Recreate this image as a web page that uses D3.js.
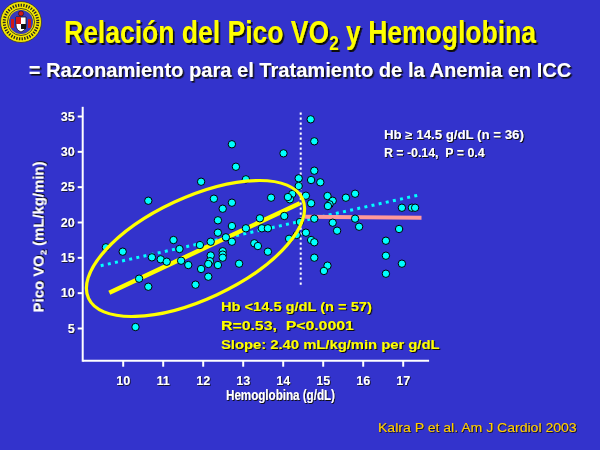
<!DOCTYPE html>
<html><head><meta charset="utf-8">
<script src="https://cdn.jsdelivr.net/npm/d3@7"></script>
<style>html,body{margin:0;padding:0;background:#3333cc;}svg{display:block;} text{white-space:pre;}</style>
</head><body>
<svg id="c" width="600" height="450"></svg>
<script>
// ---- data ----
const hbLow  = [12.73,14.02,12.83,11.96,13.08,14.40,10.64,12.28,12.73,12.50,13.71,14.24,14.18,14.13,14.40,12.38,12.73,13.43,14.04,13.08,13.48,13.63,12.38,12.58,11.27,11.93,12.20,12.73,11.42,13.29,13.38,14.16,9.58,10.00,10.73,10.95,11.10,11.46,11.64,12.50,12.50,12.50,12.20,12.18,12.14,12.38,12.91,13.63,11.96,12.14,10.41,10.64,11.82,14.43,10.32,14.35];
const vo2Low = [31.0,29.72,27.82,25.70,26.04,26.18,23.01,23.30,22.73,21.88,23.44,23.96,23.21,23.53,25.09,20.24,19.43,20.52,20.85,19.11,19.11,19.11,18.49,17.83,17.45,16.74,17.21,17.21,16.18,16.99,16.60,17.62,16.42,15.80,15.00,14.72,14.38,14.52,13.91,15.86,15.39,14.95,15.26,14.45,14.06,13.91,14.10,15.80,13.35,12.26,11.98,10.84,11.13,20.00,5.14,18.17];
const hbHigh  = [14.70,14.79,14.79,14.71,14.94,14.58,14.71,15.12,15.25,15.17,15.13,15.58,15.81,14.79,15.81,15.25,15.91,15.36,14.58,14.71,14.79,14.79,15.12,15.03,16.58,16.58,16.58,16.98,17.23,17.31,16.91,16.98];
const vo2High = [34.53,31.42,27.26,25.94,25.62,23.72,22.65,23.68,23.01,22.50,22.26,23.44,24.00,20.47,20.47,19.90,19.33,18.77,18.49,17.45,17.13,14.95,13.82,13.07,17.35,15.23,12.68,22.02,22.02,22.02,19.01,14.10];
const xTicks = [10,11,12,13,14,15,16,17];
const yTicks = [5,10,15,20,25,30,35];
const lineLow  = [[9.665,10.0],[14.43,22.65]];   // Hb < 14.5 regression
const lineAll  = [[9.45,13.82],[17.37,23.77]];   // all patients
const lineHigh = [[14.56,20.75],[17.47,20.6]];   // Hb >= 14.5 regression
const cutoff = 14.45, cutoffRange = [11.1, 35.5];
const ellipseCenter = [11.82, 16.25];
const titleText = "Relación del Pico VO";
const subtitleText = "= Razonamiento para el Tratamiento de la Anemia en ICC";
const annotLow = ["Hb <14.5 g/dL (n = 57)", "R=0.53,  P<0.0001", "Slope: 2.40 mL/kg/min per g/dL"];
const annotHigh = ["Hb \u2265 14.5 g/dL (n = 36)", "R = -0.14,  P = 0.4"];
const citation = "Kalra P et al. Am J Cardiol 2003";

const svg = d3.select("#c");
const FONT = "'Liberation Sans', Arial, Helvetica, sans-serif";
const defs = svg.append("defs");
[["sh2",2],["sh15",1.6],["sh1",1],["sh08",0.8]].forEach(([id,d])=>{
  defs.append("filter").attr("id",id).attr("x","-10%").attr("y","-30%").attr("width","130%").attr("height","160%")
    .append("feDropShadow").attr("dx",d).attr("dy",d).attr("stdDeviation",0).attr("flood-color","#111").attr("flood-opacity",1);
});
svg.append("rect").attr("width",600).attr("height",450).attr("fill","#3333cc");

const x = d3.scaleLinear().domain([10,17]).range([122.7,402.7]);
const y = d3.scaleLinear().domain([5,35]).range([328,116]);

// text helper: shadow via filter, scales horizontally to target width
function label(opts){
  const g = svg.append("g");
  const t = g.append("text")
    .attr("fill",opts.fill)
    .attr("font-family",FONT)
    .attr("font-size",opts.size)
    .attr("font-weight",opts.weight||"bold")
    .attr("text-anchor",opts.anchor||"start");
  if(opts.shadow) t.attr("filter",`url(#${opts.shadow})`);
  (opts.parts||[[opts.text]]).forEach(p=>{
    const ts = t.append("tspan").text(p[0]);
    if(p[1]) ts.attr("font-size",p[1]);
    if(p[2]) ts.attr("dy",p[2]);
  });
  let s = 1;
  if(opts.width){ s = opts.width / t.node().getBBox().width; }
  g.attr("transform",`translate(${opts.x},${opts.y})${opts.rotate?` rotate(${opts.rotate})`:""} scale(${s},1)`);
  return g;
}

// ---- logo ----
const logo = svg.append("g").attr("transform","translate(21,22)");
logo.append("circle").attr("r",20.5).attr("fill","#f2e600").attr("stroke","#333").attr("stroke-width",0.8);
logo.append("circle").attr("r",16.8).attr("fill","none").attr("stroke","#222").attr("stroke-width",3).attr("stroke-dasharray","1.3,1.4");
logo.append("circle").attr("r",13.5).attr("fill","#f2e600").attr("stroke","#222").attr("stroke-width",0.8);
logo.append("circle").attr("r",12).attr("fill","#3a3ab8");
logo.append("path").attr("d","M-5,-5 L5,-5 L5,3 Q5,8 0,10 Q-5,8 -5,3 Z").attr("fill","#ffffff").attr("stroke","#111").attr("stroke-width",0.8);
logo.append("rect").attr("x",-5).attr("y",-5).attr("width",5).attr("height",7).attr("fill","#d01818");
logo.append("rect").attr("x",0).attr("y",2).attr("width",5).attr("height",5).attr("fill","#111");
logo.append("circle").attr("cx",0).attr("cy",-8.5).attr("r",2.6).attr("fill","#d01818").attr("stroke","#111").attr("stroke-width",0.6);
logo.append("rect").attr("x",-10).attr("y",-3).attr("width",3).attr("height",9).attr("fill","#d01818");
logo.append("rect").attr("x",7).attr("y",-3).attr("width",3).attr("height",9).attr("fill","#d01818");

// ---- titles ----
label({x:300,y:43,anchor:"middle",size:31,fill:"#ffff00",shadow:"sh2",width:473,
  parts:[[titleText],["2",20,"7"],[" y Hemoglobina",31,"-7"]]});
label({x:300,y:76.5,anchor:"middle",size:21,fill:"#ffffff",shadow:"sh15",width:543,text:subtitleText});

// ---- axes ----
const axW = 2, axisY = y(0.37), axisX = x(9.0);
const gx = svg.append("g").attr("transform",`translate(0,${axisY})`)
  .call(d3.axisBottom(x).tickValues(xTicks).tickSize(6).tickPadding(9).tickFormat(d3.format("d")));
const gy = svg.append("g").attr("transform",`translate(${axisX},0)`)
  .call(d3.axisLeft(y).tickValues(yTicks).tickSize(5).tickPadding(3).tickFormat(d3.format("d")));
[gx,gy].forEach(g=>{
  g.select(".domain").remove();
  g.selectAll(".tick line").attr("stroke","#ffffff").attr("stroke-width",axW);
  g.selectAll(".tick text").attr("fill","#ffffff").attr("font-family",FONT).attr("font-size",12.5).attr("font-weight","bold")
    .attr("filter","url(#sh08)");
});
svg.append("line").attr("x1",axisX).attr("x2",x(17.66)).attr("y1",axisY).attr("y2",axisY).attr("stroke","#fff").attr("stroke-width",axW);
svg.append("line").attr("x1",axisX).attr("x2",axisX).attr("y1",axisY+1).attr("y2",y(36.3)).attr("stroke","#fff").attr("stroke-width",axW);

label({x:226,y:400,size:14,fill:"#ffffff",shadow:"sh1",width:109,text:"Hemoglobina (g/dL)"});
label({x:43.5,y:237,anchor:"middle",rotate:-90,size:14,fill:"#ffffff",shadow:"sh1",width:151,
  parts:[["Pico VO"],["2",9,"3"],[" (mL/kg/min)",14,"-3"]]});

// ---- lines ----
const ln = d3.line().x(d=>x(d[0])).y(d=>y(d[1]));
svg.append("path").attr("d",ln(lineAll)).attr("stroke","#00ffff").attr("stroke-width",3).attr("stroke-dasharray","3,4.3").attr("fill","none");
svg.append("path").attr("d",ln(lineHigh)).attr("stroke","#ff9999").attr("stroke-width",4).attr("fill","none");
svg.append("line").attr("x1",x(cutoff)).attr("x2",x(cutoff)).attr("y1",y(cutoffRange[1])).attr("y2",y(cutoffRange[0]))
  .attr("stroke","#ffffff").attr("stroke-width",2).attr("stroke-dasharray","2.2,2.8");
svg.append("path").attr("d",ln(lineLow)).attr("stroke","#ffff00").attr("stroke-width",4.5).attr("fill","none");

// ---- points ----
const pts = hbLow.map((h,i)=>[h,vo2Low[i]]).concat(hbHigh.map((h,i)=>[h,vo2High[i]]));
svg.append("g").selectAll("circle").data(pts).join("circle")
  .attr("cx",d=>x(d[0])).attr("cy",d=>y(d[1])).attr("r",3.7)
  .attr("fill","#00ffff").attr("stroke","#000").attr("stroke-width",1);

// ---- ellipse (hand-drawn emphasis around low-Hb group) ----
svg.append("ellipse").attr("cx",0).attr("cy",0).attr("rx",118).attr("ry",51)
  .attr("transform",`translate(${x(ellipseCenter[0])},${y(ellipseCenter[1])}) rotate(-25)`)
  .attr("fill","none").attr("stroke","#ffff00").attr("stroke-width",3.2);

// ---- annotations ----
const lowW = [151,133,219], lowY = [311,330,349];
annotLow.forEach((t,i)=>label({x:221,y:lowY[i],size:12.5,fill:"#ffff00",shadow:"sh1",width:lowW[i],text:t}));
const highW = [140,101], highY = [139,157];
annotHigh.forEach((t,i)=>label({x:384,y:highY[i],size:12,fill:"#ffffff",shadow:"sh1",width:highW[i],text:t}));
label({x:378,y:432,size:13,weight:"normal",fill:"#ffcc00",shadow:"sh08",width:199,text:citation});
</script>
</body></html>
